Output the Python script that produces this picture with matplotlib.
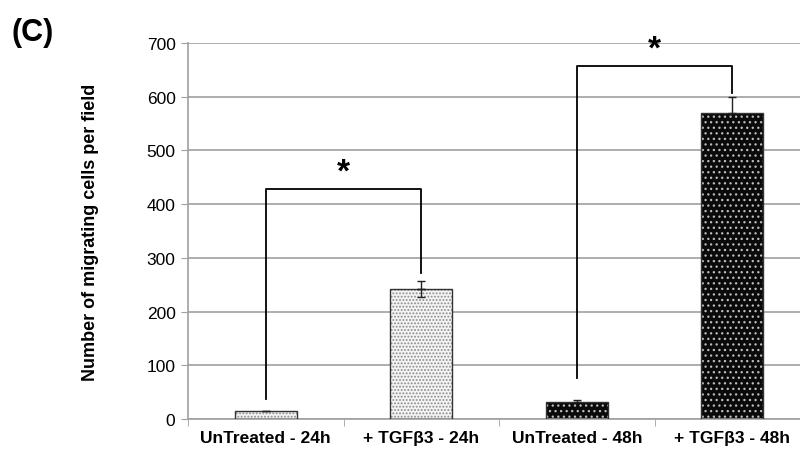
import numpy as np
import matplotlib
matplotlib.use('Agg')
import matplotlib.pyplot as plt

plt.rcParams['font.family'] = ['Liberation Sans', 'DejaVu Sans']
plt.rcParams['hatch.linewidth'] = 0.9

categories = ['UnTreated - 24h', '+ TGF\u03b23 - 24h', 'UnTreated - 48h', '+ TGF\u03b23 - 48h']
values = [14, 242, 32, 569]
errors = [0, 14, 3, 30]
face_colors = ['#f4f4f4', '#f4f4f4', '#0a0a0a', '#0a0a0a']
dot_colors = ['#8c8c8c', '#8c8c8c', '#bdbdbd', '#bdbdbd']
hatches = ['.....', '.....', '...', '...']

# significance brackets: (left idx, right idx, left bottom, right bottom, top, star)
brackets = [(0, 1, 37, 272, 428, '*'), (2, 3, 76, 607, 657, '*')]

fig = plt.figure(figsize=(8, 4.52), dpi=100)
ax = fig.add_axes([0.235, 0.0708, 0.7775, 0.832])

x = np.arange(len(categories))
for xi, v, fc, dc, h in zip(x, values, face_colors, dot_colors, hatches):
    ax.bar(xi, v, width=0.4, color=fc, edgecolor=dc, hatch=h, linewidth=0, zorder=2)
ax.bar(x, values, width=0.4, fill=False, edgecolor='#333333', linewidth=1.0, zorder=3)
ax.errorbar(x, values, yerr=[[0] * 4, errors], fmt='none', ecolor='#222222',
            elinewidth=1, capsize=3, zorder=4)
ax.errorbar(x[1:2], values[1:2], yerr=[errors[1:2], [0]], fmt='none',
            ecolor='#222222', elinewidth=1, capsize=3, zorder=4)

for i, j, lb, rb, top, s in brackets:
    ax.plot([x[i], x[i], x[j], x[j]], [lb, top, top, rb], color='black', lw=1.3, zorder=5)
    ax.text((x[i] + x[j]) / 2, top + 2, s, ha='center', va='bottom',
            fontsize=24, fontweight='bold')

ax.set_ylim(0, 700)
ax.set_xlim(-0.5, 3.5)
ax.set_yticks(range(0, 701, 100))
ax.yaxis.grid(True, color='#a0a0a0', lw=1.2, zorder=0)
ax.set_axisbelow(True)
ax.tick_params(axis='y', labelsize=12.5, length=5, color='#a0a0a0', pad=4)

ax.set_xticks(x)
ax.set_xticklabels(categories, fontsize=12.5, fontweight='bold')
ax.tick_params(axis='x', length=0, pad=8)
ax.set_xticks(np.arange(-0.5, 4, 1), minor=True)
ax.tick_params(axis='x', which='minor', length=5, color='#a0a0a0')

for side in ['top', 'right']:
    ax.spines[side].set_visible(False)
for side in ['left', 'bottom']:
    ax.spines[side].set_color('#a0a0a0')
    ax.spines[side].set_linewidth(1.2)

ax.set_ylabel('Number of migrating cells per field', fontsize=13,
              fontweight='bold', labelpad=34)
fig.text(0.014, 0.91, '(C)', fontsize=22, fontweight='bold')

fig.savefig('out.png', dpi=100)
